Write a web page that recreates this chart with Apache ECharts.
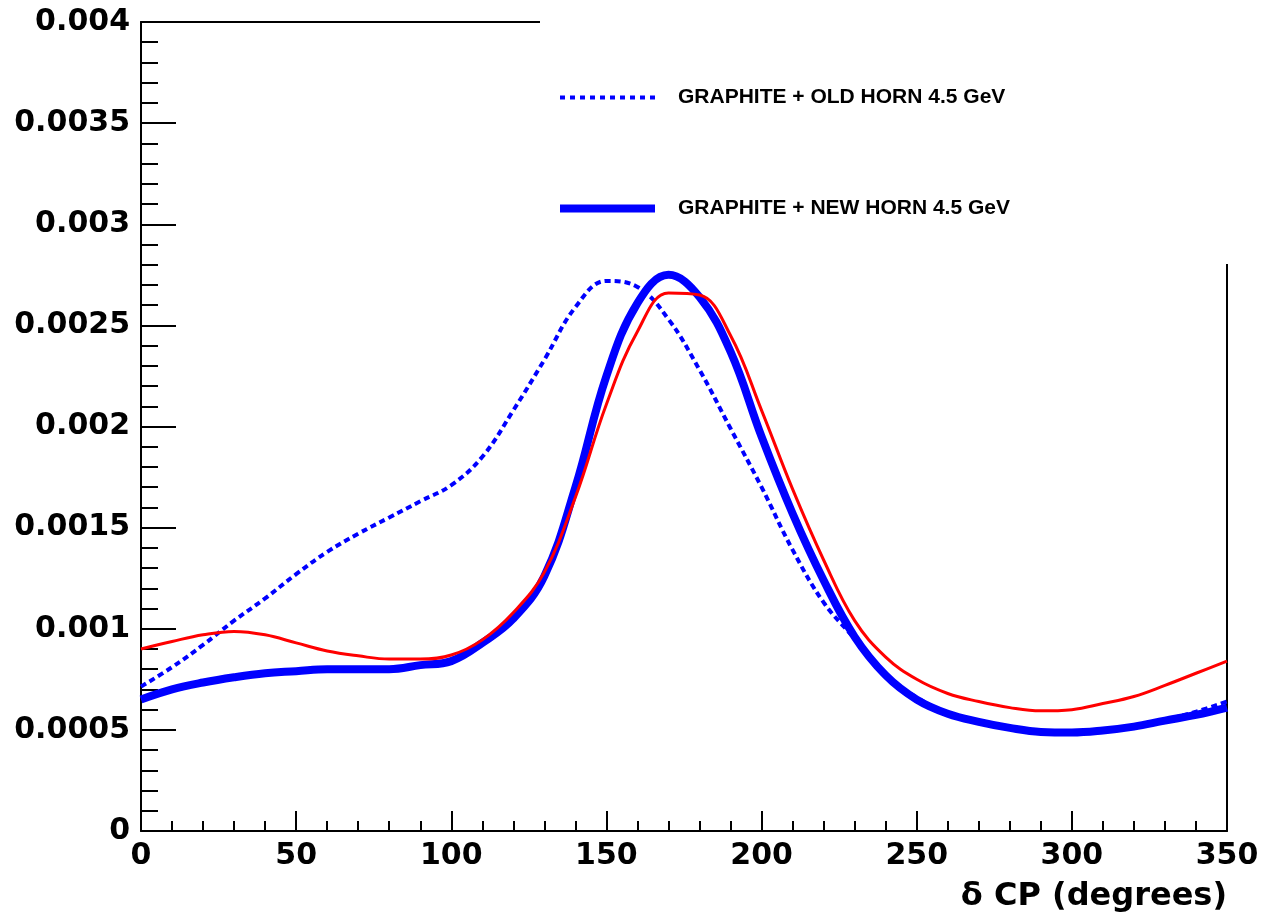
<!DOCTYPE html>
<html>
<head>
<meta charset="utf-8">
<script src="https://cdn.jsdelivr.net/npm/echarts@6/dist/echarts.min.js"></script>
<style>
html,body{margin:0;padding:0;background:#fff;}
#chart{width:1263px;height:918px;}
</style>
</head>
<body>
<div id="chart"></div>
<script>
// delta CP (degrees)
const deltaCP = [0,10,20,30,40,50,60,70,80,90,100,110,120,130,140,150,160,170,180,190,200,210,220,230,240,250,260,270,280,290,300,310,320,330,340,350];
// GRAPHITE + OLD HORN 4.5 GeV (dashed)
const oldHorn = [0.000714,0.00081,0.00092,0.00104,0.00115,0.00127,0.00138,0.00147,0.00155,0.00163,0.00171,0.00185,0.00208,0.00233,0.00259,0.00272,0.00269,0.00253,0.00228,0.00199,0.00170,0.00139,0.00113,0.00095,0.00076,0.00066,0.00058,0.00054,0.00051,0.00049,0.00049,0.00050,0.00052,0.00055,0.00059,0.00064];
// GRAPHITE + NEW HORN 4.5 GeV (thick)
const newHorn = [0.00065,0.00070,0.000734,0.00076,0.00078,0.00079,0.00080,0.00080,0.00080,0.00082,0.00084,0.00093,0.00105,0.00126,0.00170,0.00225,0.00261,0.00275,0.00264,0.00237,0.00195,0.00157,0.00124,0.00096,0.00077,0.00065,0.00058,0.00054,0.00051,0.00049,0.000487,0.000497,0.000516,0.000546,0.000574,0.00061];
// third curve (red, not in legend)
const redCurve = [0.00090,0.000937,0.00097,0.000987,0.00097,0.00093,0.00089,0.000866,0.00085,0.00085,0.00087,0.000945,0.00108,0.00128,0.00165,0.00211,0.00247,0.00266,0.00265,0.00245,0.00208,0.00169,0.00134,0.00104,0.00086,0.00075,0.00068,0.00064,0.00061,0.000594,0.00060,0.00063,0.000665,0.00072,0.00078,0.00084];

const legendNames = ['GRAPHITE + OLD HORN 4.5 GeV', 'GRAPHITE + NEW HORN 4.5 GeV'];
const xTitle = 'δ CP (degrees)';

const pairs = arr => deltaCP.map((x, i) => [x, arr[i]]);

const chart = echarts.init(document.getElementById('chart'), null, {renderer: 'canvas'});
const axisFont = {fontFamily: 'DejaVu Sans', fontWeight: 'bold', fontSize: 30, color: '#000'};
const lineBlack = {color: '#000', width: 2};

chart.setOption({
  animation: false,
  backgroundColor: '#fff',
  title: {
    text: xTitle, right: 36, top: 878, padding: 0,
    textStyle: {fontFamily: 'DejaVu Sans', fontWeight: 'bold', fontSize: 32, color: '#000', lineHeight: 38}
  },
  grid: {left: 141, right: 36, top: 22, bottom: 87, containLabel: false, outerBoundsMode: 'none'},
  xAxis: [{
    type: 'value', min: 0, max: 350, interval: 50,
    axisLine: {show: true, onZero: false, lineStyle: lineBlack},
    axisTick: {show: true, inside: true, length: 20, lineStyle: lineBlack},
    minorTick: {show: true, splitNumber: 5, length: 10, lineStyle: lineBlack},
    splitLine: {show: false},
    axisLabel: Object.assign({margin: 10}, axisFont)
  }, {
    type: 'value', min: 0, max: 350, position: 'top',
    axisLine: {show: true, onZero: false, lineStyle: lineBlack},
    axisTick: {show: false}, axisLabel: {show: false}, splitLine: {show: false}
  }],
  yAxis: [{
    type: 'value', min: 0, max: 0.004, interval: 0.0005,
    axisLine: {show: true, onZero: false, lineStyle: lineBlack},
    axisTick: {show: true, inside: true, length: 35, lineStyle: lineBlack},
    minorTick: {show: true, splitNumber: 5, length: 17, lineStyle: lineBlack},
    splitLine: {show: false},
    axisLabel: Object.assign({margin: 11, formatter: v => String(+v.toFixed(4))}, axisFont)
  }, {
    type: 'value', min: 0, max: 0.004, position: 'right',
    axisLine: {show: true, onZero: false, lineStyle: lineBlack},
    axisTick: {show: false}, axisLabel: {show: false}, splitLine: {show: false}
  }],
  legend: {
    orient: 'vertical', left: 551, top: 82, itemGap: 90, z: 30,
    itemWidth: 95, itemHeight: 10,
    data: [
      {name: legendNames[0], lineStyle: {width: 4, type: [5, 5], color: '#0000ff'}, itemStyle: {opacity: 0}},
      {name: legendNames[1], lineStyle: {width: 8, color: '#0000ff'}, itemStyle: {opacity: 0}}
    ],
    textStyle: {fontFamily: 'Liberation Sans', fontWeight: 'bold', fontSize: 21, color: '#000', padding: [0, 0, 0, 18]}
  },
  graphic: [{
    type: 'rect', z: 20, silent: true,
    shape: {x: 540, y: 0, width: 723, height: 264},
    style: {fill: '#fff'}
  }],
  series: [{
    name: legendNames[1], type: 'line', data: pairs(newHorn), smooth: 0.4,
    showSymbol: false, symbol: 'none', z: 2,
    lineStyle: {color: '#0000ff', width: 8}, itemStyle: {color: '#0000ff'}
  }, {
    name: legendNames[0], type: 'line', data: pairs(oldHorn), smooth: 0.4,
    showSymbol: false, symbol: 'none', z: 3,
    lineStyle: {color: '#0000ff', width: 4, type: [6, 4]}, itemStyle: {color: '#0000ff'}
  }, {
    name: 'red', type: 'line', data: pairs(redCurve), smooth: 0.4,
    showSymbol: false, symbol: 'none', z: 4,
    lineStyle: {color: '#ff0000', width: 3}, itemStyle: {color: '#ff0000'}
  }]
});
</script>
</body>
</html>
